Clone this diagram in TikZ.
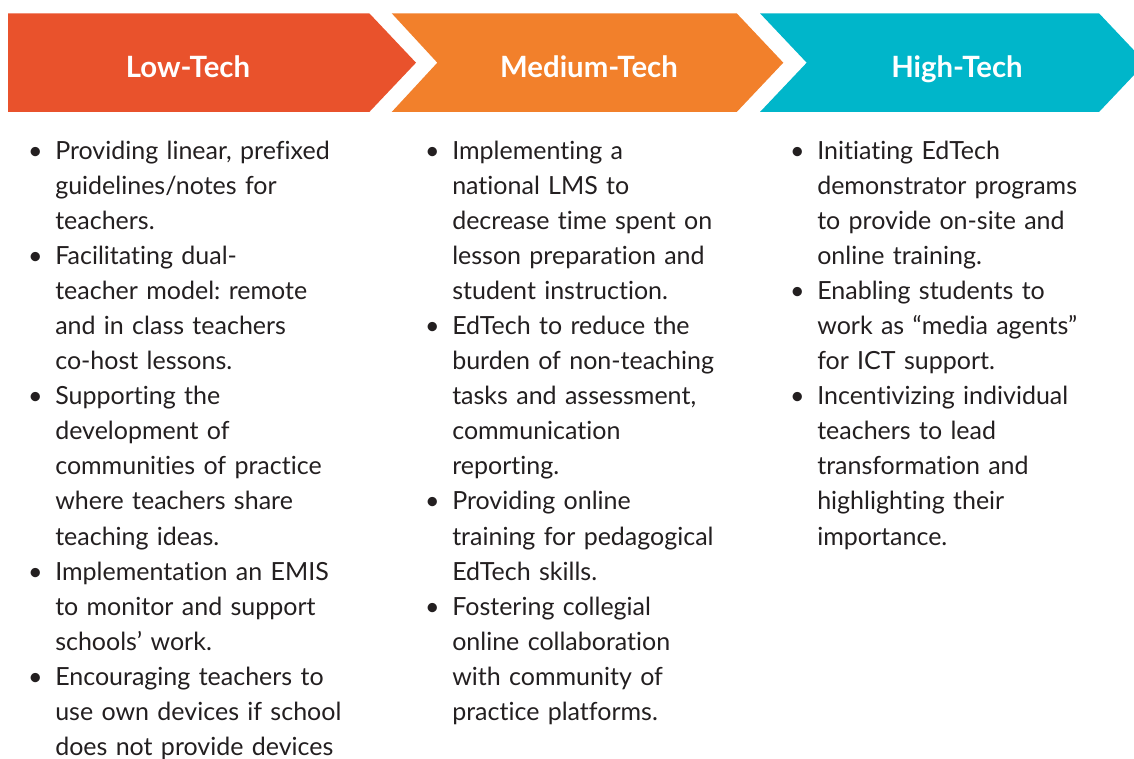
\documentclass[tikz,border=0pt]{standalone}
\usepackage{fontspec}
\setmainfont[Ligatures=NoCommon]{Lato}
\usetikzlibrary{positioning}
\definecolor{LowClr}{RGB}{233,82,44}
\definecolor{MedClr}{RGB}{242,128,43}
\definecolor{HighClr}{RGB}{0,182,202}
\definecolor{TextClr}{RGB}{35,31,32}
\frenchspacing
\newenvironment{techitems}{%
  \begin{list}{\makebox[0pt][c]{\textbullet}}{%
    \setlength{\leftmargin}{0pt}\setlength{\labelwidth}{0pt}%
    \setlength{\labelsep}{15pt}\setlength{\itemsep}{0pt}%
    \setlength{\parsep}{0pt}\setlength{\topsep}{0pt}%
    \setlength{\partopsep}{0pt}\setlength{\itemindent}{0pt}}}%
  {\end{list}}
\tikzset{
  techtitle/.style={anchor=base,text=white,inner sep=0pt,
    font=\fontsize{22pt}{26pt}\selectfont\bfseries},
  techlist/.style={anchor=north west,inner sep=0pt,text=TextClr,
    text width=260pt,align=left,
    font=\fontsize{18.75pt}{26.3pt}\selectfont\frenchspacing}
}

\begin{document}
\begin{tikzpicture}[x=0.75pt,y=-0.75pt]
\useasboundingbox (0,0) rectangle (1134,759);

% banner
\fill[LowClr] (8,13.3) -- (369.3,13.3) -- (416,62.7) -- (369.3,112) -- (8,112) -- cycle;
\fill[MedClr] (391.7,13.3) -- (736.7,13.3) -- (783.3,62.7) -- (736.7,112)
  -- (391.7,112) -- (437.3,62.7) -- cycle;
\fill[HighClr] (760,13.3) -- (1099,13.3) -- (1145.7,62.7) -- (1099,112)
  -- (760,112) -- (806.7,62.7) -- cycle;

\node[techtitle] (lowtitle) at (188,78) {Low-Tech};
\node[techtitle] (medtitle) at (589,78) {Medium-Tech};
\node[techtitle] (hightitle) at (957,78) {High-Tech};

% lists
\node[techlist] (lowlist) at (55,124) {\begin{techitems}
\item Providing linear, prefixed\newline guidelines/notes for\newline teachers.
\item Facilitating dual-\newline teacher model: remote\newline and in class teachers\newline co-host lessons.
\item Supporting the\newline development of\newline communities of practice\newline where teachers share\newline teaching ideas.
\item Implementation an EMIS\newline to monitor and support\newline schools’ work.
\item Encouraging teachers to\newline use own devices if school\newline does not provide devices
\end{techitems}};

\node[techlist] (medlist) at (452,124) {\begin{techitems}
\item Implementing a\newline national LMS to\newline decrease time spent on\newline lesson preparation and\newline student instruction.
\item EdTech to reduce the\newline burden of non-teaching\newline tasks and assessment,\newline communication\newline reporting.
\item Providing online\newline training for pedagogical\newline EdTech skills.
\item Fostering collegial\newline online collaboration\newline with community of\newline practice platforms.
\end{techitems}};

\node[techlist] (highlist) at (817,124) {\begin{techitems}
\item Initiating EdTech\newline demonstrator programs\newline to provide on-site and\newline online training.
\item Enabling students to\newline work as “media agents”\newline for ICT support.
\item Incentivizing individual\newline teachers to lead\newline transformation and\newline highlighting their\newline importance.
\end{techitems}};

\end{tikzpicture}
\end{document}
